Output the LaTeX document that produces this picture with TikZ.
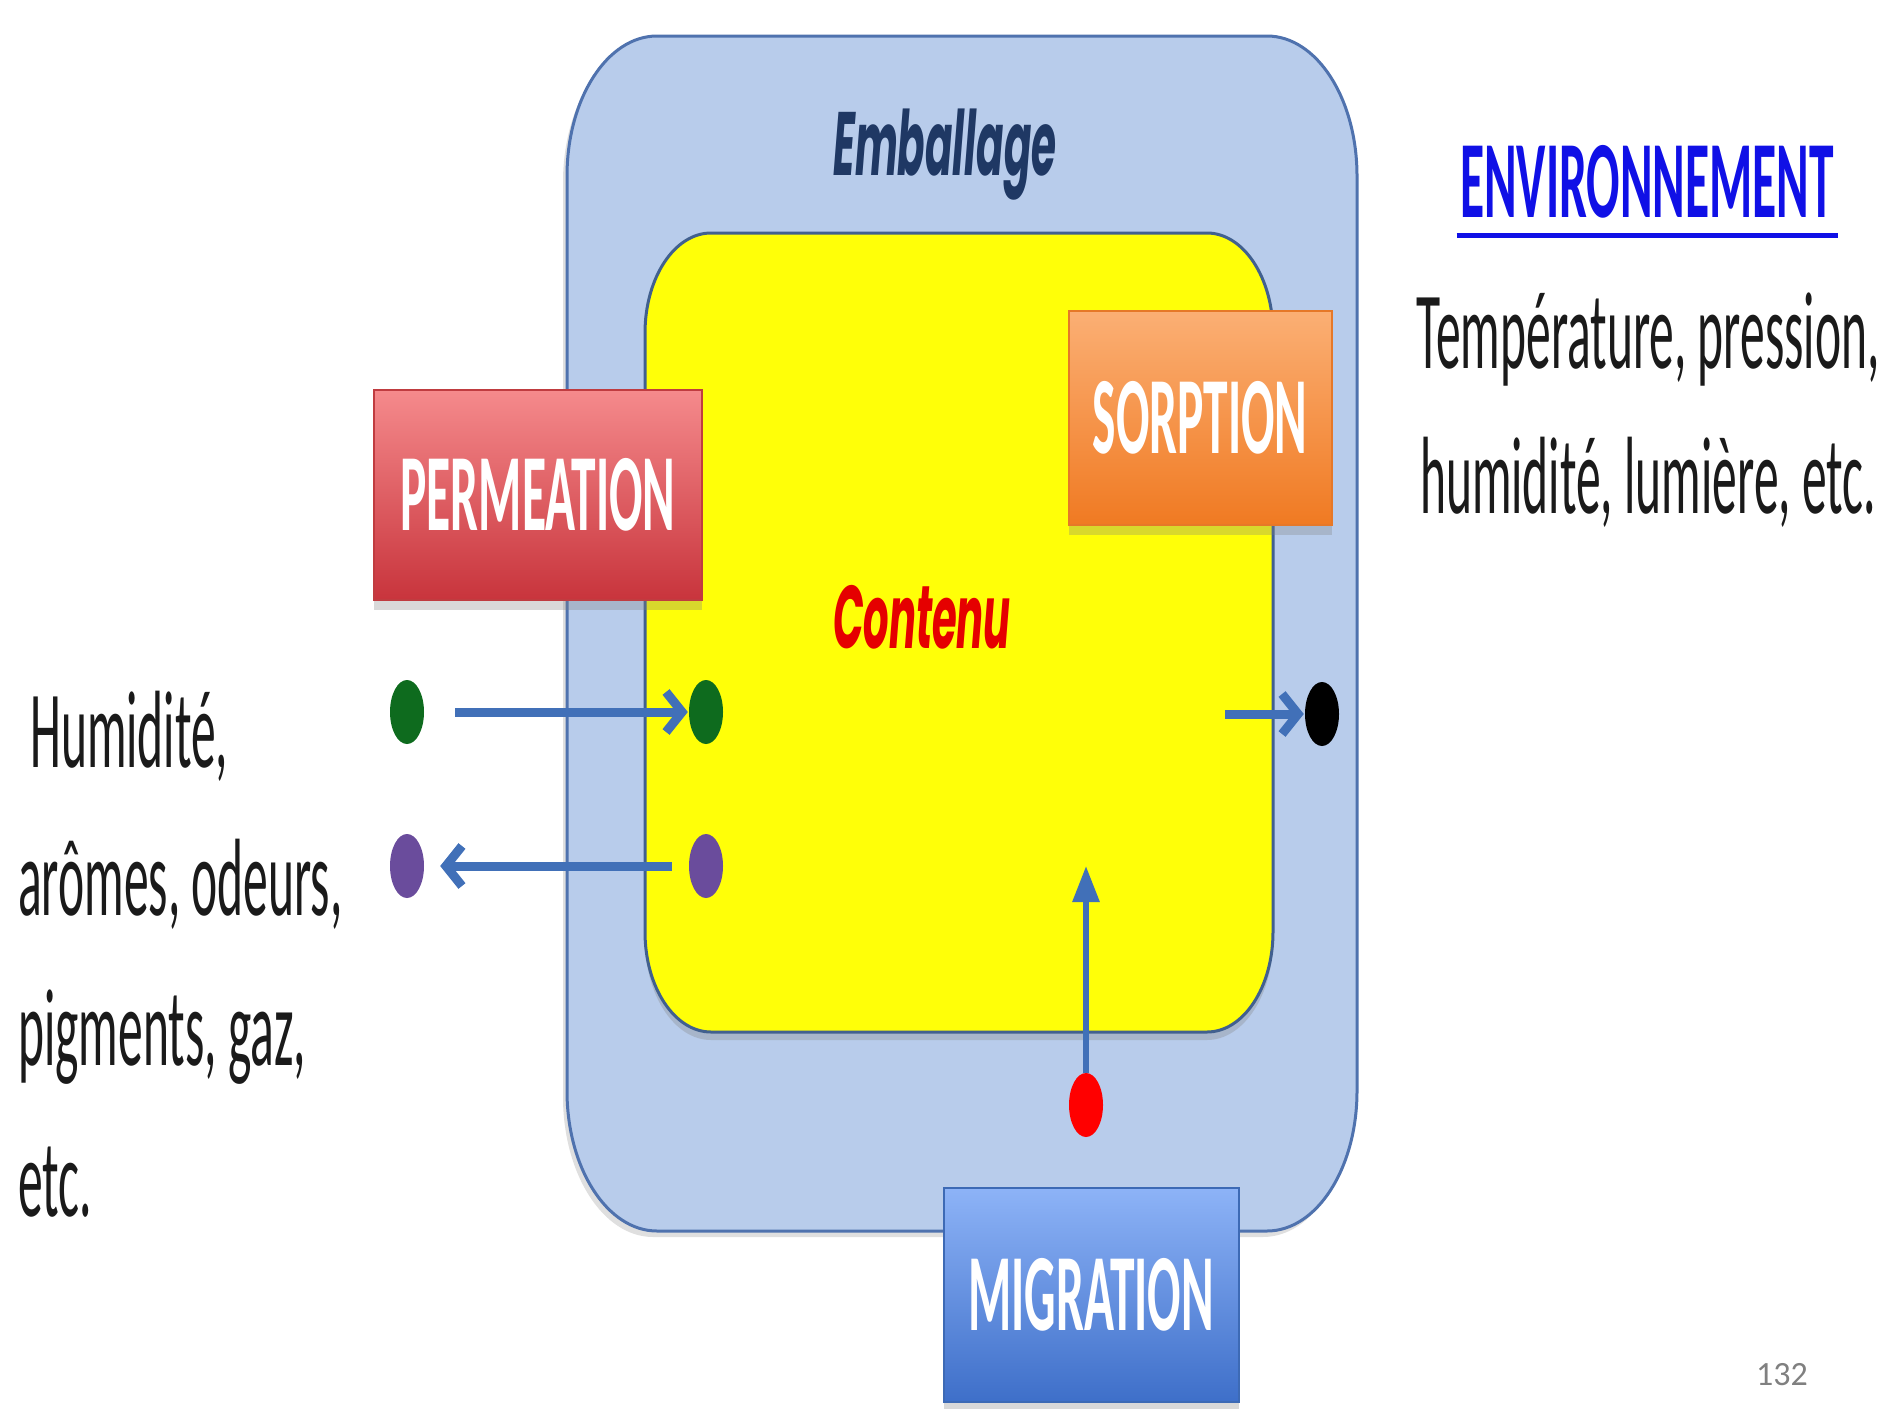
\documentclass[tikz,border=0pt]{standalone}
\usepackage{fontspec}
\usepackage{tikz}
\usetikzlibrary{arrows.meta,positioning,shapes.geometric,shadows}
\newfontfamily\calfont[FakeStretch=0.45]{Carlito}
\newfontfamily\gothfont[FakeStretch=0.45]{Poppins}
\newfontfamily\pagefont{Carlito}
\definecolor{packfill}{RGB}{184,204,235}
\definecolor{packline}{RGB}{79,114,174}
\definecolor{innerline}{RGB}{65,96,143}
\definecolor{contyellow}{RGB}{255,255,8}
\definecolor{navytxt}{RGB}{31,56,100}
\definecolor{flowblue}{RGB}{65,112,184}
\definecolor{dotgreen}{RGB}{14,107,30}
\definecolor{dotpurple}{RGB}{106,76,156}
\definecolor{envblue}{RGB}{16,16,230}
\definecolor{textgray}{RGB}{26,26,26}
\tikzset{
  tag/.style={rectangle, inner sep=0pt, line width=2pt, text=white,
    font=\calfont\bfseries\fontsize{110}{110}\selectfont,
    drop shadow={opacity=0.3, shadow xshift=0pt, shadow yshift=-10pt}},
  dot/.style={ellipse, minimum width=34pt, minimum height=64pt, inner sep=0pt},
  flow/.style={draw=flowblue, line width=9pt, -{Straight Barb[length=16pt, width=40pt]}},
  body/.style={font=\calfont\fontsize{110}{130}\selectfont, text=textgray, inner sep=0pt},
}

\begin{document}
\begin{tikzpicture}[x=1pt, y=-1pt]
        \useasboundingbox (0,0) rectangle (1892,1408);
        % packaging and content
        \draw[fill=packfill, draw=packline, line width=3pt,
              drop shadow={opacity=0.25, shadow xshift=-4pt, shadow yshift=-6pt}]
          (657,36) -- (1267,36) arc[start angle=270, end angle=360, x radius=90, y radius=140]
          -- (1357,1091) arc[start angle=0, end angle=90, x radius=90, y radius=140]
          -- (657,1231) arc[start angle=90, end angle=180, x radius=90, y radius=140]
          -- (567,176) arc[start angle=180, end angle=270, x radius=90, y radius=140] -- cycle;
        \draw[fill=contyellow, draw=innerline, line width=3pt,
              drop shadow={opacity=0.3, shadow xshift=0pt, shadow yshift=-8pt}]
          (711,233) -- (1207,233) arc[start angle=270, end angle=360, x radius=66, y radius=100]
          -- (1273,932) arc[start angle=0, end angle=90, x radius=66, y radius=100]
          -- (711,1032) arc[start angle=90, end angle=180, x radius=66, y radius=100]
          -- (645,333) arc[start angle=180, end angle=270, x radius=66, y radius=100] -- cycle;
        \node[anchor=base, text=navytxt, font=\gothfont\bfseries\itshape\fontsize{90}{90}\selectfont] (pack) at (945,175) {Emballage};
        \node[anchor=base, text=red!90!black, font=\gothfont\bfseries\itshape\fontsize{89}{89}\selectfont] (cont) at (922,648) {Contenu};
        % the three exchanges
        \node[tag, top color={rgb,255:red,245;green,138;blue,140}, bottom color={rgb,255:red,200;green,52;blue,60},
              draw={rgb,255:red,192;green,60;blue,64}, minimum width=328pt, minimum height=210pt] (perm) at (538,495) {PERMEATION};
        \node[tag, top color={rgb,255:red,251;green,175;blue,116}, bottom color={rgb,255:red,240;green,122;blue,34},
              draw={rgb,255:red,230;green,120;blue,40}, minimum width=263pt, minimum height=214pt] (sorp) at (1200,418) {SORPTION};
        \node[tag, top color={rgb,255:red,141;green,179;blue,247}, bottom color={rgb,255:red,62;green,111;blue,201},
              draw={rgb,255:red,61;green,106;blue,181}, minimum width=295pt, minimum height=214pt] (migr) at (1091,1295) {MIGRATION};
        % molecules
        \node[dot, fill=dotgreen] (gL) at (407,712) {};
        \node[dot, fill=dotgreen] (gR) at (706,712) {};
        \node[dot, fill=dotpurple] (pL) at (407,866) {};
        \node[dot, fill=dotpurple] (pR) at (706,866) {};
        \node[dot, fill=black] (bk) at (1322,714) {};
        \node[dot, fill=red] (rd) at (1086,1105) {};
        \coordinate (bS) at (1225,714);
        \coordinate (rT) at (1086,866);
        \draw[flow, shorten <=31pt, shorten >=1pt] (gL) -- (gR);
        \draw[flow, shorten <=17pt, shorten >=16pt] (pR) -- (pL);
        \draw[flow, shorten >=1pt] (bS) -- (bk);
        \draw[draw=flowblue, line width=6pt, -{Triangle[length=36pt, width=26pt]}] (rd) -- (rT);
        % environment
        \node[anchor=base, text=envblue, font=\calfont\bfseries\fontsize{110}{110}\selectfont] (env) at (1647,217) {ENVIRONNEMENT};
        \draw[envblue, line width=5pt] ([yshift=-18pt]env.base west) -- ([yshift=-18pt]env.base east);
        \node[body, anchor=base] (envA) at (1648,368) {Température, pression,};
        \node[body, anchor=base] (envB) at (1648,513) {humidité, lumière, etc.};
        % species
        \node[body, anchor=base west] (spA) at (30,767) {Humidité,};
        \node[body, anchor=base west] (spB) at (18,915) {arômes, odeurs,};
        \node[body, anchor=base west] (spC) at (18,1065) {pigments, gaz,};
        \node[body, anchor=base west] (spD) at (18,1216) {etc.};
        \node[anchor=base, text=gray, font=\pagefont\fontsize{34}{34}\selectfont] (page) at (1782,1385) {132};
      \end{tikzpicture}
\end{document}
